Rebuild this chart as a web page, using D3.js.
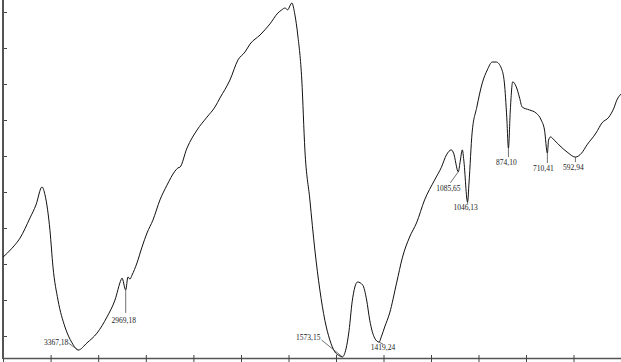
<!DOCTYPE html>
<html>
<head>
<meta charset="utf-8">
<script src="https://cdn.jsdelivr.net/npm/d3@7"></script>
<style>
  body { margin: 0; background: #fff; }
  svg { display: block; }
  .peak { font-family: "Liberation Serif", "Times New Roman", serif; font-size: 7.5px; fill: #222; }
</style>
</head>
<body>
<svg id="spectrum" width="621" height="362"></svg>
<script>
const width = 621, height = 362;

// wavenumber (cm-1) and transmittance
const wavenumbers = [4000, 3924, 3857, 3773, 3723, 3672, 3647, 3605, 3580, 3538, 3479, 3420, 3367, 3294, 3210, 3126, 3059, 3008, 3000, 2969, 2950, 2933, 2916, 2874, 2832, 2790, 2740, 2681, 2622, 2555, 2530, 2513, 2454, 2370, 2286, 2219, 2177, 2093, 2025,
  1983, 1962, 1920, 1878, 1845, 1828, 1815, 1803, 1794, 1786, 1773, 1761, 1744, 1731, 1710, 1689, 1668, 1647, 1626, 1605, 1588, 1573, 1558, 1545, 1532, 1509, 1488, 1471, 1458, 1437, 1419, 1408, 1395, 1374, 1345, 1320, 1290, 1261, 1227, 1185, 1156, 1135, 1114, 1105, 1085, 1078, 1068, 1062, 1046, 1040, 1027, 1007, 984, 963, 942, 925, 904, 891, 881, 874, 866, 856, 841, 828, 816, 786, 757, 736, 722, 710, 705, 697, 681, 652, 627, 592, 566, 543, 505, 480, 451, 430, 417, 400];
const transmittance = [31.9, 34.4, 37.2, 42.8, 46.4, 51.4, 49.2, 39.2, 29.2, 20.0, 12.5, 8.1, 6.1, 8.1, 10.8, 15.3, 20.0, 25.6, 26.1, 22.8, 26.4, 25.8, 26.9, 30.3, 34.7, 38.6, 42.2, 47.8, 51.9, 55.8, 56.7, 56.9, 62.2, 67.2, 70.8, 73.6, 76.1, 81.1, 86.7,
  88.9, 91.1, 93.6, 96.7, 99.7, 100.6, 101.1, 100.6, 101.7, 102.5, 99.2, 93.6, 81.1, 61.7, 47.8, 33.9, 22.8, 14.4, 8.9, 5.6, 4.6, 4.2, 6.4, 11.5, 19.5, 25.0, 24.2, 20.0, 14.4, 9.4, 8.3, 10.0, 12.5, 16.4, 24.7, 31.9, 37.5, 41.4, 47.8, 53.3, 56.9, 60.3, 61.7, 60.8, 55.6, 58.1, 61.7, 58.9, 47.2, 52.5, 66.4, 73.6, 80.3, 83.9, 86.1, 86.1, 84.4, 80.3, 70.8, 62.2, 72.8, 80.6, 79.2, 76.4, 73.6, 72.8, 71.9, 70.0, 67.2, 60.8, 64.4, 65.3, 64.4, 62.5, 61.1, 59.7, 60.8, 63.1, 66.4, 69.2, 70.8, 73.3, 75.6, 77.2];

const peakLabels = ["3367,18", "2969,18", "1573,15", "1419,24", "1085,65", "1046,13", "874,10", "710,41", "592,94"];
const peakWavenumbers = [3367, 2969, 1573, 1419, 1085, 1046, 874, 710, 592];

const xTicks = [4000, 3600, 3200, 2800, 2400, 2000, 1800, 1600, 1400, 1200, 1000, 800, 600, 400];
const yTicks = [10, 20, 30, 40, 50, 60, 70, 80, 90, 100];

const spectrum = wavenumbers.map((w, i) => ({ w: w, t: transmittance[i] }));
const tAt = w => transmittance[wavenumbers.indexOf(w)];

// x scale is compressed above 2000 cm-1, as on the instrument printout
const x = d3.scaleLinear().domain([4000, 2000, 400]).range([3, 241, 621]);
const y = d3.scaleLinear().domain([0, 100]).range([372, 12]);
const axisY = 358;

const svg = d3.select("#spectrum");

// bottom axis
svg.append("g")
    .attr("transform", `translate(0,${axisY})`)
    .call(d3.axisBottom(x).tickValues(xTicks).tickSize(4).tickSizeOuter(0).tickFormat(""))
    .call(g => g.select(".domain").attr("stroke", "#555").attr("stroke-width", 1.5))
    .call(g => g.selectAll(".tick line").attr("stroke", "#444").attr("y1", -3));

// left axis
svg.append("g")
    .attr("transform", `translate(${x(4000)},0)`)
    .call(d3.axisLeft(y).tickValues(yTicks).tickSize(-4).tickSizeOuter(0).tickFormat(""))
    .call(g => g.select(".domain").remove())
    .call(g => g.selectAll(".tick line").attr("stroke", "#444"));
svg.append("line")
    .attr("x1", x(4000)).attr("x2", x(4000))
    .attr("y1", 0).attr("y2", axisY + 1)
    .attr("stroke", "#555").attr("stroke-width", 2);

// spectrum trace
svg.append("path")
    .datum(spectrum)
    .attr("fill", "none")
    .attr("stroke", "#111")
    .attr("stroke-width", 1)
    .attr("d", d3.line().x(d => x(d.w)).y(d => y(d.t)).curve(d3.curveMonotoneX));

// peak annotations: leader end offset and text anchor offset from the peak point
const leaders = [[-10, -7], [0, 23], [-21, -17], [4, 2], [-8, 11], [0, 2], [0, 9], [0, 10], [0, 5]];
const textPos = [[-10, -5, "end"], [-2, 33, "middle"], [-22, -17, "end"], [4, 8, "middle"], [-10, 19, "middle"], [-2, 8, "middle"], [-2, 17, "middle"], [-4, 18, "middle"], [-2, 13, "middle"]];

peakWavenumbers.forEach((w, i) => {
  const px = x(w), py = y(tAt(w));
  svg.append("line")
      .attr("x1", px).attr("y1", py)
      .attr("x2", px + leaders[i][0]).attr("y2", py + leaders[i][1])
      .attr("stroke", "#333").attr("stroke-width", 0.7);
  svg.append("text")
      .attr("class", "peak")
      .attr("x", px + textPos[i][0])
      .attr("y", py + textPos[i][1])
      .attr("text-anchor", textPos[i][2])
      .text(peakLabels[i]);
});
</script>
</body>
</html>
